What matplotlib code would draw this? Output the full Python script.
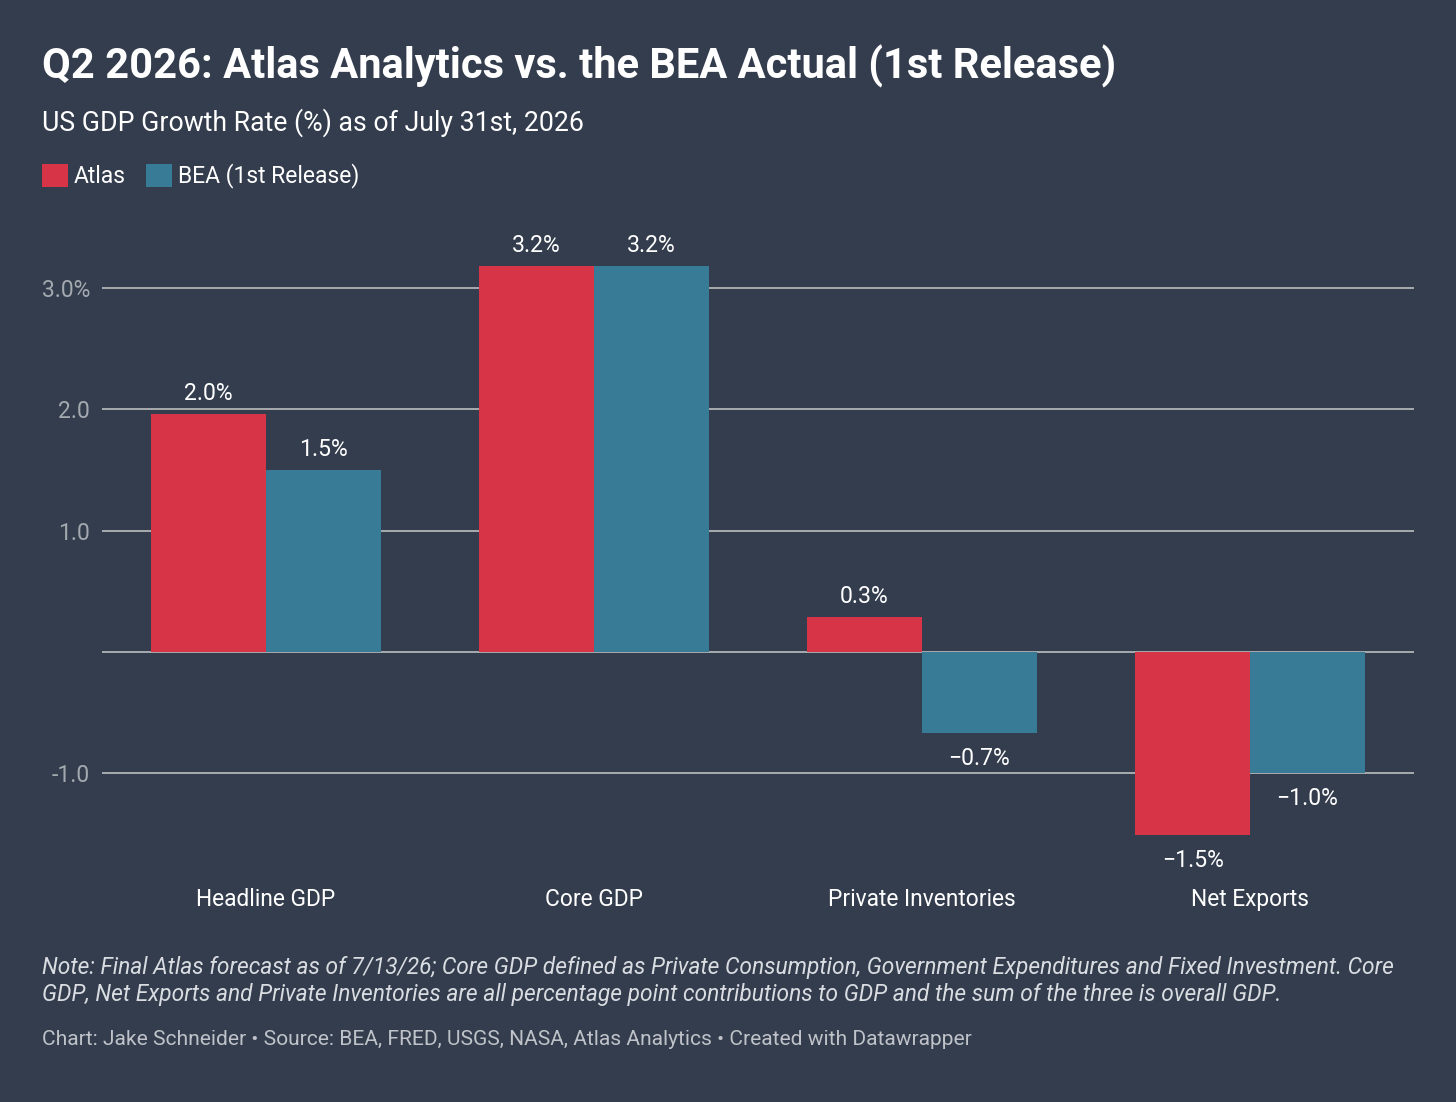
import numpy as np
import matplotlib
matplotlib.use("Agg")
import matplotlib.pyplot as plt
from matplotlib.ticker import FixedLocator, FixedFormatter

# Chart data
categories = ["Headline GDP", "Core GDP", "Private Inventories", "Net Exports"]
atlas_values = [1.96, 3.18, 0.29, -1.51]
bea_values = [1.50, 3.18, -0.67, -1.00]
series_names = ["Atlas", "BEA (1st Release)"]
y_ticks = [-1.0, 0.0, 1.0, 2.0, 3.0]
y_tick_labels = ["-1.0", "", "1.0", "2.0", "3.0%"]

# Colours
BG = "#333d4d"
RED = "#d83447"
BLUE = "#387b96"
GRID = "#a9abae"
TICK_TXT = "#a4a9b0"

plt.rcParams["font.family"] = ["Roboto", "DejaVu Sans"]

W, H = 1456, 1102
fig = plt.figure(figsize=(W / 100, H / 100), dpi=100, facecolor=BG)

# Plot area in pixel terms
left_px, right_px = 102, 1414
ymin, ymax = -1.75, 3.5
zero_px, unit_px = 652, 121.3
top_px = zero_px - ymax * unit_px
bot_px = zero_px - ymin * unit_px
ax = fig.add_axes([left_px / W, 1 - bot_px / H,
                   (right_px - left_px) / W, (bot_px - top_px) / H])
ax.set_facecolor(BG)

x = np.arange(len(categories))
width = 0.35
bars_a = ax.bar(x - width / 2, atlas_values, width, color=RED, label=series_names[0], zorder=3)
bars_b = ax.bar(x + width / 2, bea_values, width, color=BLUE, label=series_names[1], zorder=3)

ax.set_xlim(-0.5, len(categories) - 0.5)
ax.set_ylim(ymin, ymax)

# Gridlines
for t in y_ticks:
    ax.axhline(t, color=GRID, lw=1.4, zorder=1)

ax.yaxis.set_major_locator(FixedLocator(y_ticks))
ax.yaxis.set_major_formatter(FixedFormatter(y_tick_labels))
ax.tick_params(axis="y", length=0, pad=8.5, labelsize=16.5, labelcolor=TICK_TXT)
ax.set_xticks(x)
ax.set_xticklabels(categories)
ax.tick_params(axis="x", length=0, pad=17, labelsize=16.4, labelcolor="white")
for s in ax.spines.values():
    s.set_visible(False)


def fmt(v):
    s = f"{abs(v):.1f}%"
    return ("\u2212" + s) if v < 0 else s


# Value labels
for bars, vals in [(bars_a, atlas_values), (bars_b, bea_values)]:
    for b, v in zip(bars, vals):
        cx = b.get_x() + b.get_width() / 2
        if v >= 0:
            ax.annotate(fmt(v), (cx, v), xytext=(0, 6.5), textcoords="offset points",
                        ha="center", va="bottom", color="white", fontsize=16.6)
        else:
            ax.annotate(fmt(v), (cx, v), xytext=(0, -10), textcoords="offset points",
                        ha="center", va="top", color="white", fontsize=16.6)

# Title, subtitle
fig.text(42 / W, 1 - 78 / H, "Q2 2026: Atlas Analytics vs. the BEA Actual (1st Release)",
         fontsize=30, fontweight="bold", color="white", va="baseline")
fig.text(42 / W, 1 - 131 / H, "US GDP Growth Rate (%) as of July 31st, 2026",
         fontsize=19.2, color="white", va="baseline")

# Legend
handles, labels = ax.get_legend_handles_labels()
fig.legend(handles, labels, loc="center left", bbox_to_anchor=(42 / W, 1 - 176 / H),
           frameon=False, fontsize=16.5, labelcolor="white", ncol=2,
           handlelength=1.15, handleheight=1.15, handletextpad=0.25,
           columnspacing=0.85, borderaxespad=0, borderpad=0)

# Notes
note1 = ("Note: Final Atlas forecast as of 7/13/26; Core GDP defined as Private Consumption, "
         "Government Expenditures and Fixed Investment. Core")
note2 = ("GDP, Net Exports and Private Inventories are all percentage point contributions "
         "to GDP and the sum of the three is overall GDP.")
fig.text(42 / W, 1 - 974 / H, note1, fontsize=16.4, style="italic", color="#d9dce1", va="baseline")
fig.text(42 / W, 1 - 1001 / H, note2, fontsize=16.4, style="italic", color="#d9dce1", va="baseline")
fig.text(42 / W, 1 - 1045 / H,
         "Chart: Jake Schneider \u2022 Source: BEA, FRED, USGS, NASA, Atlas Analytics \u2022 Created with Datawrapper",
         fontsize=15.1, color="#bfc3c9", va="baseline")

fig.savefig("out.png", dpi=100, facecolor=BG)
